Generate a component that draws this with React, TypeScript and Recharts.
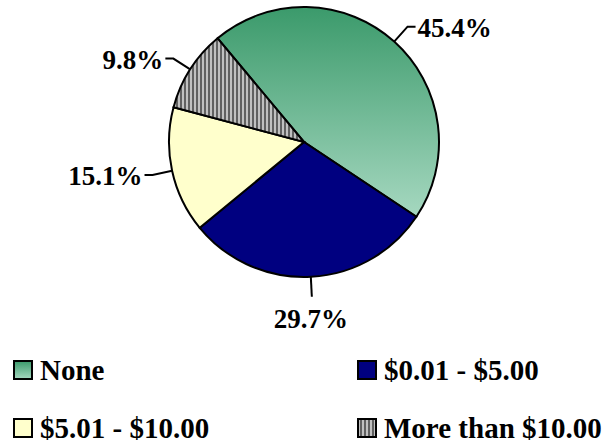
import React from 'react';
import { PieChart, Pie, Cell, Legend } from 'recharts';

const categories = ['None', '$0.01 - $5.00', '$5.01 - $10.00', 'More than $10.00'];
const shares = [45.4, 29.7, 15.1, 9.8];
const fills = ['url(#gNone)', '#000080', '#FFFFCC', 'url(#hatch)'];

const data = categories.map((name, i) => ({ name, value: shares[i] }));

const FONT = '"Liberation Serif", "Times New Roman", serif';
const RAD = Math.PI / 180;

const renderLabel = (props: any) => {
  const { cx, cy, midAngle, outerRadius, value } = props;
  const c = Math.cos(midAngle * RAD);
  const s = Math.sin(midAngle * RAD);
  const ex = cx + outerRadius * c;
  const ey = cy - outerRadius * s;
  const text = `${Number(value).toFixed(1)}%`;
  if (Math.abs(c) < 0.3) {
    const r2 = outerRadius + 20;
    const mx = cx + r2 * c;
    const my = cy - r2 * s;
    return (
      <g>
        <polyline points={`${ex},${ey} ${mx},${my}`} fill="none" stroke="#000" strokeWidth={2} />
        <text x={mx - 1} y={my + 31} textAnchor="middle" fontFamily={FONT} fontWeight="bold" fontSize={27} fill="#000">
          {text}
        </text>
      </g>
    );
  }
  const r2 = outerRadius + 20;
  const mx = cx + r2 * c;
  const my = cy - r2 * s;
  const dir = c > 0 ? 1 : -1;
  const hx = mx + dir * 8;
  return (
    <g>
      <polyline points={`${ex},${ey} ${mx},${my} ${hx},${my}`} fill="none" stroke="#000" strokeWidth={2} />
      <text x={hx + dir * 2} y={my + 10} textAnchor={dir > 0 ? 'start' : 'end'} fontFamily={FONT} fontWeight="bold" fontSize={27} fill="#000">
        {text}
      </text>
    </g>
  );
};

const Icon = ({ i }: { i: number }) => (
  <svg width={22} height={22} style={{ position: 'absolute', left: -1, top: -1 }}>
    <defs>
      <linearGradient id={`lg${i}`} x1="0" y1="0" x2="0" y2="1">
        <stop offset="0%" stopColor="#3B9A6B" />
        <stop offset="100%" stopColor="#A6D8C0" />
      </linearGradient>
      <pattern id={`lh${i}`} width={4} height={4} patternUnits="userSpaceOnUse">
        <rect width={4} height={4} fill="#C0C0C0" />
        <line x1={1} y1={0} x2={1} y2={4} stroke="#000" strokeWidth={1} />
      </pattern>
    </defs>
    <rect x={2} y={2} width={18} height={18}
      fill={i === 0 ? `url(#lg${i})` : i === 3 ? `url(#lh${i})` : fills[i]}
      stroke="#000" strokeWidth={2} />
  </svg>
);

const legendPos = [
  { left: 13, top: 360 },
  { left: 357, top: 360 },
  { left: 13, top: 418 },
  { left: 357, top: 418 },
];

const renderLegend = () => (
  <div style={{ position: 'relative', width: 608, height: 445 }}>
    {categories.map((name, i) => (
      <div key={name} style={{ position: 'absolute', left: legendPos[i].left, top: legendPos[i].top, width: 300, height: 22 }}>
        <Icon i={i} />
        <svg width={300} height={40} style={{ position: 'absolute', left: 0, top: -18, overflow: 'visible' }}>
          <text x={27} y={38} fontFamily={FONT} fontWeight="bold" fontSize={29} fill="#000">{name}</text>
        </svg>
      </div>
    ))}
  </div>
);

export default function App() {
  return (
    <div style={{ position: 'absolute', left: 0, top: 0, width: 608, height: 445, background: '#fff' }}>
      <PieChart width={608} height={445} margin={{ top: 0, right: 0, bottom: 0, left: 0 }}>
        <defs>
          <linearGradient id="gNone" x1="0" y1="0" x2="0" y2="1">
            <stop offset="0%" stopColor="#3B9A6B" />
            <stop offset="100%" stopColor="#A6D8C0" />
          </linearGradient>
          <pattern id="hatch" width={4} height={4} patternUnits="userSpaceOnUse">
            <rect width={4} height={4} fill="#C0C0C0" />
            <line x1={1} y1={0} x2={1} y2={4} stroke="#000" strokeWidth={1} />
          </pattern>
        </defs>
        <Pie
          data={data}
          dataKey="value"
          nameKey="name"
          cx={304}
          cy={142}
          outerRadius={135}
          startAngle={129.8}
          endAngle={-230.2}
          stroke="#000"
          strokeWidth={2}
          label={renderLabel}
          labelLine={false}
          isAnimationActive={false}
        >
          {data.map((d, i) => (
            <Cell key={d.name} fill={fills[i]} />
          ))}
        </Pie>
        <Legend
          content={renderLegend}
          wrapperStyle={{ position: 'absolute', left: 0, top: 0, width: 608, height: 445, pointerEvents: 'none' }}
        />
      </PieChart>
    </div>
  );
}
